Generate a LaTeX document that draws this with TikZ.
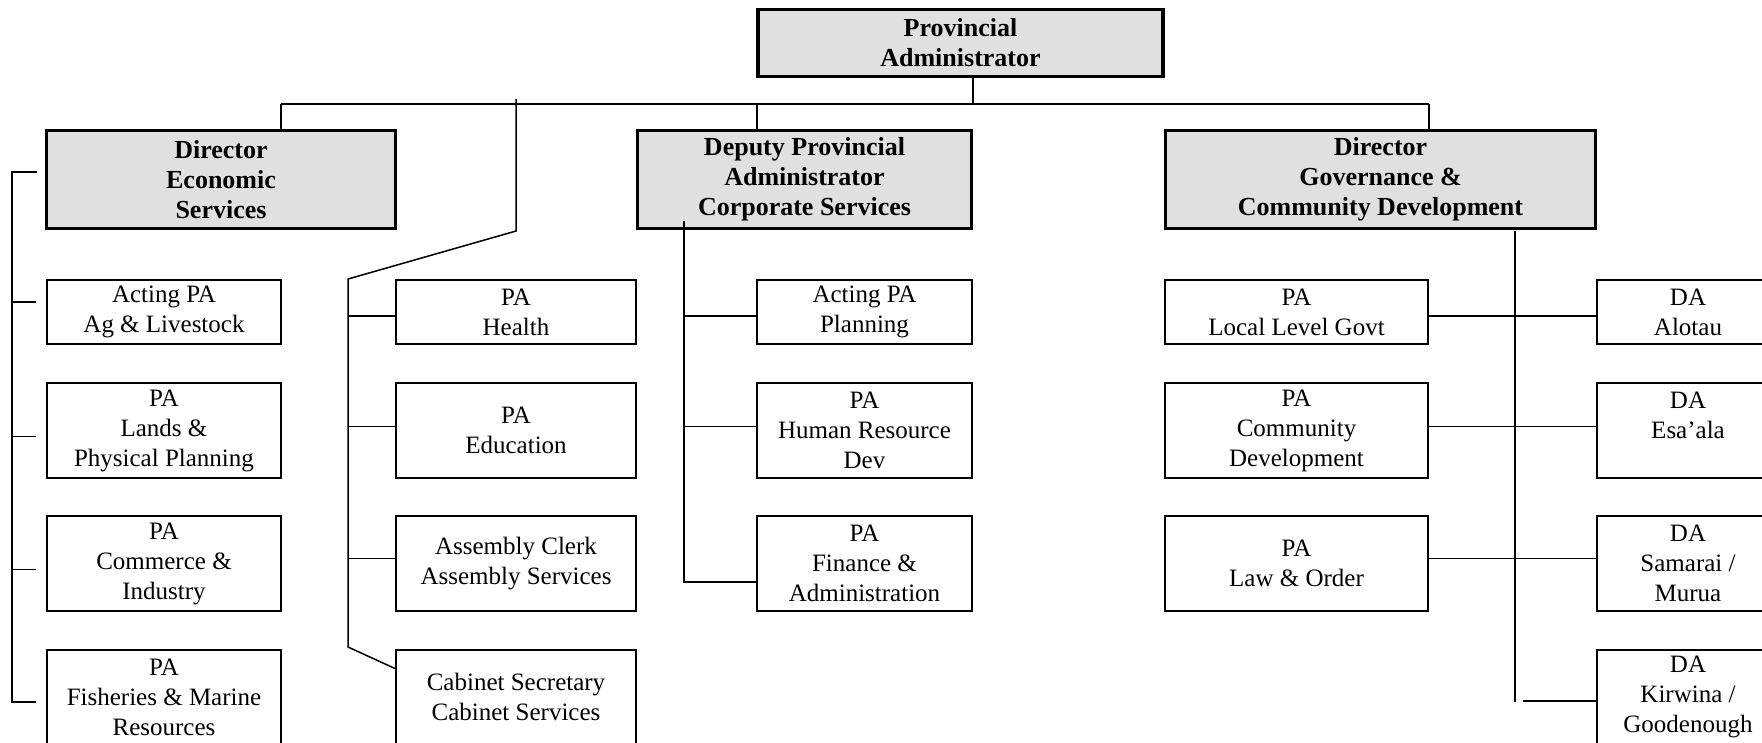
\documentclass[tikz,border=0pt]{standalone}
\usepackage{fontspec}
\setmainfont{Liberation Serif}
\usetikzlibrary{calc}
\definecolor{headgray}{RGB}{224,224,224}

\begin{document}
\begin{tikzpicture}[x=1pt,y=-1pt,
    head/.style={draw,line width=3.5pt,fill=headgray,inner sep=0pt,align=center,
        font=\bfseries\fontsize{26}{30}\selectfont,minimum height=98pt},
    unit/.style={draw,line width=2pt,inner sep=0pt,align=center,
        font=\fontsize{25}{30}\selectfont},
    small/.style={unit,minimum height=64pt},
    tall/.style={unit,minimum height=95pt},
    link/.style={line width=1.5pt}]
\useasboundingbox (0,0) rectangle (1762,742);
\clip (0,0) rectangle (1762,742);

    % top level
\node[head,minimum width=405pt,minimum height=67pt] (pa) at (960.5,43) {Provincial\\Administrator};

\node[head,minimum width=349pt] (dec) at (221,179.5) {Director\\Economic\\Services};
\node[head,minimum width=334pt] (dpa) at (804.5,179.5) {Deputy Provincial\\Administrator\\Corporate Services};
\node[head,minimum width=430pt] (dgc) at (1380.5,179.5) {Director\\Governance \&\\Community Development};


\coordinate (j1) at (281,104);
\coordinate (j2) at (757,104);
\coordinate (j3) at (973,104);
\coordinate (j4) at (1429,104);

\draw[link] (j1) -- (j4);
\draw[link] (j3) -- (j3 |- pa.south);
\draw[link] (j1) -- (j1 |- dec.north);
\draw[link] (j2) -- (j2 |- dpa.north);
\draw[link] (j4) -- (j4 |- dgc.north);



    % economic services
\node[small,minimum width=234pt] (ag) at (164,312) {Acting PA\\Ag \& Livestock};
\node[tall,minimum width=234pt] (lands) at (164,430.5) {PA\\Lands \&\\Physical Planning};
\node[tall,minimum width=234pt] (comm) at (164,563.5) {PA\\Commerce \&\\Industry};
\node[tall,minimum width=234pt] (fish) at (164,697) {PA\\Fisheries \& Marine\\Resources};

\coordinate (e0) at (37,172);
\coordinate (e1) at (12,172);
\coordinate (e5) at (12,702);

\draw[link] (e0) -- (e1) -- (e5) -- ++(24,0);
\draw[link] ($(e1 |- ag.west)+(0,-10)$) -- ++(24,0);
\draw[link] ($(e1 |- lands.west)+(0,6)$) -- ++(24,0);
\draw[link] ($(e1 |- comm.west)+(0,6)$) -- ++(24,0);



    % middle branch
\node[small,minimum width=240pt] (health) at (516,312) {PA\\Health};
\node[tall,minimum width=240pt] (edu) at (516,430.5) {PA\\Education};
\node[tall,minimum width=240pt] (asm) at (516,563.5) {Assembly Clerk\\Assembly Services};
\node[tall,minimum width=240pt] (cab) at (516,697) {Cabinet Secretary\\Cabinet Services};

\coordinate (k1) at (516,99);
\coordinate (k2) at (516,231);
\coordinate (k3) at (348,279);
\coordinate (k4) at (348,647);

\draw[link] (k1) -- (k2) -- (k3) -- (k4) -- ($(cab.north west)+(0,20)$);
\draw[link] ($(k3 |- health.west)+(0,4)$) -- ($(health.west)+(0,4)$);
\draw[link] ($(k3 |- edu.west)+(0,-4)$) -- ($(edu.west)+(0,-4)$);
\draw[link] ($(k3 |- asm.west)+(0,-5)$) -- ($(asm.west)+(0,-5)$);



    % corporate services
\node[small,minimum width=215pt] (plan) at (864.5,312) {Acting PA\\Planning};
\node[tall,minimum width=215pt] (hrd) at (864.5,430.5) {PA\\Human Resource\\Dev};
\node[tall,minimum width=215pt] (fin) at (864.5,563.5) {PA\\Finance \&\\Administration};

\coordinate (c1) at (684,221);
\coordinate (c2) at (684,582);

\draw[link] (c1) -- (c2) -- (c2 -| fin.west);
\draw[link] ($(c1 |- plan.west)+(0,4)$) -- ($(plan.west)+(0,4)$);
\draw[link] ($(c1 |- hrd.west)+(0,-4)$) -- ($(hrd.west)+(0,-4)$);



    % governance
\node[small,minimum width=263pt] (llg) at (1296.5,312) {PA\\Local Level Govt};
\node[tall,minimum width=263pt] (cd) at (1296.5,430.5) {PA\\Community\\Development};
\node[tall,minimum width=263pt] (law) at (1296.5,563.5) {PA\\Law \& Order};

\node[small,minimum width=182pt] (alo) at (1688,312) {DA\\Alotau};
\node[tall,minimum width=182pt] (esa) at (1688,430.5) {DA\\Esa’ala\\\mbox{}};
\node[tall,minimum width=182pt] (sam) at (1688,563.5) {DA\\Samarai /\\Murua};
\node[tall,minimum width=182pt] (kir) at (1688,697) {DA\\Kirwina /\\Goodenough};

\coordinate (g1) at (1515,231);
\coordinate (g2) at (1515,702);

\draw[link] (g1) -- (g2);
\draw[link] ($(llg.east)+(0,4)$) -- ($(alo.west)+(0,4)$);
\draw[link] ($(cd.east)+(0,-4)$) -- ($(esa.west)+(0,-4)$);
\draw[link] ($(law.east)+(0,-5)$) -- ($(sam.west)+(0,-5)$);
\draw[link] ($(kir.west)+(0,4)$) -- ++(-73,0);

\end{tikzpicture}
\end{document}
